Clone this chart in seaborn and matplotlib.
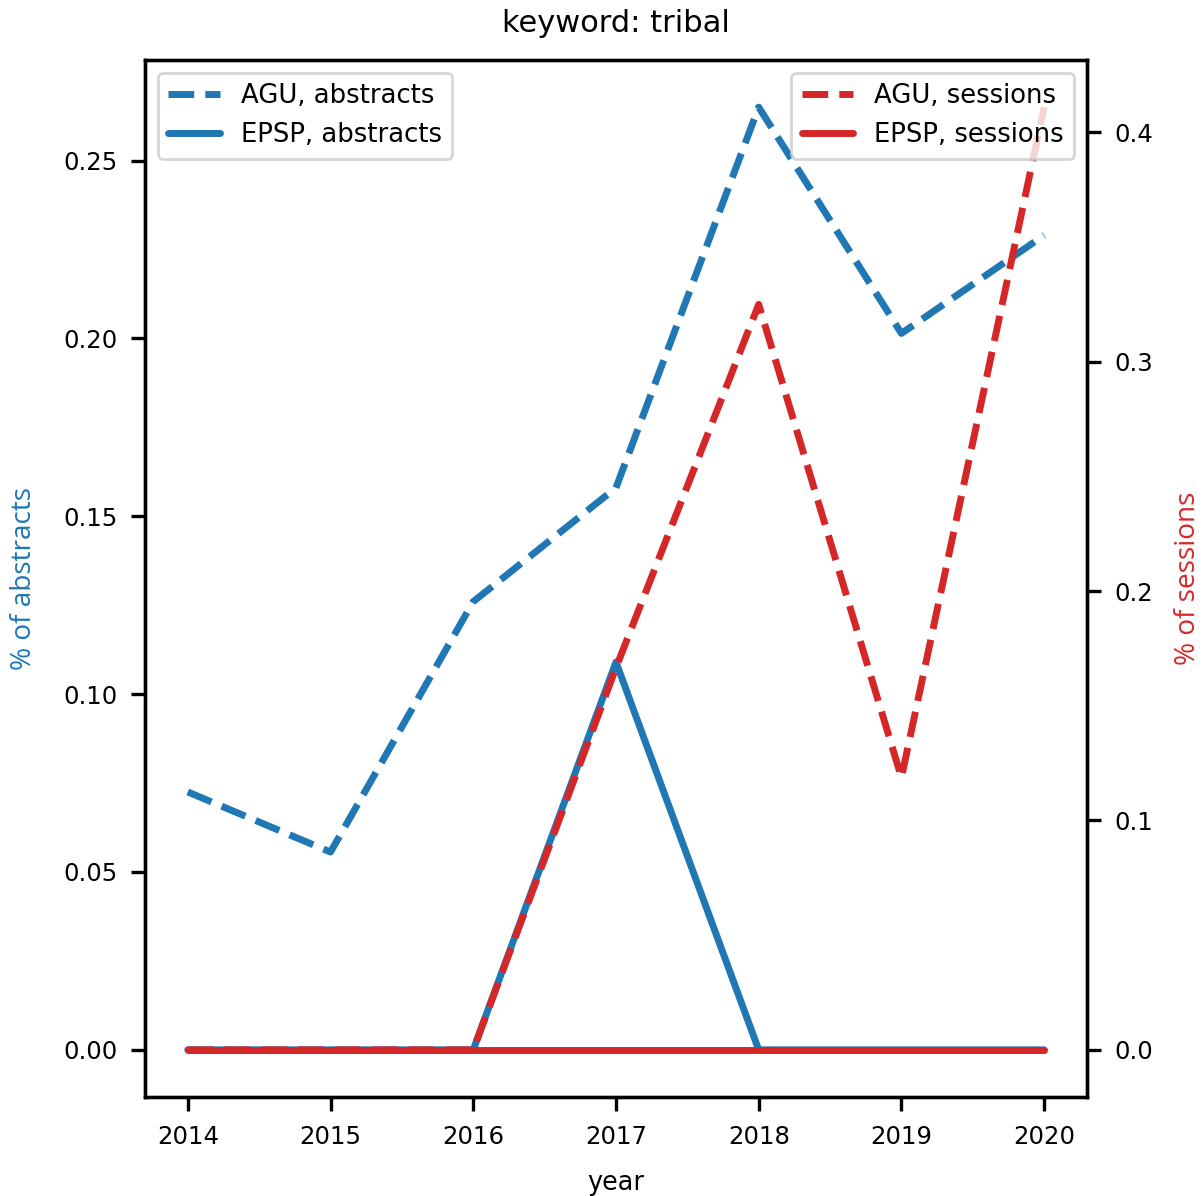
import matplotlib
matplotlib.use("Agg")
import matplotlib.pyplot as plt
import seaborn as sns
import pandas as pd

years = [2014, 2015, 2016, 2017, 2018, 2019, 2020]
agu_abstracts = [0.0725, 0.0556, 0.126, 0.158, 0.265, 0.2014, 0.229]
epsp_abstracts = [0.0, 0.0, 0.0, 0.109, 0.0, 0.0, 0.0]
agu_sessions = [0.0, 0.0, 0.0, 0.1666, 0.325, 0.1187, 0.411]
epsp_sessions = [0.0, 0.0, 0.0, 0.0, 0.0, 0.0, 0.0]

sns.set_style("ticks", {
    "axes.edgecolor": "black",
    "text.color": "black",
    "axes.labelcolor": "black",
    "xtick.color": "black",
    "ytick.color": "black",
})
plt.rcParams["font.family"] = ["DejaVu Sans"]

blue = "#1f77b4"
red = "#d62728"
lw = 2.5

fig = plt.figure(figsize=(6.01, 5.98), dpi=200)
ax = fig.add_axes([0.1206, 0.0828, 0.7837, 0.867])
ax2 = ax.twinx()

df = pd.DataFrame({
    "year": years,
    "agu_abs": agu_abstracts,
    "epsp_abs": epsp_abstracts,
    "agu_ses": agu_sessions,
    "epsp_ses": epsp_sessions,
})

sns.lineplot(data=df, x="year", y="agu_abs", ax=ax, color=blue, linestyle="--",
             linewidth=lw, label="AGU, abstracts")
sns.lineplot(data=df, x="year", y="epsp_abs", ax=ax, color=blue, linestyle="-",
             linewidth=lw, label="EPSP, abstracts")
sns.lineplot(data=df, x="year", y="agu_ses", ax=ax2, color=red, linestyle="--",
             linewidth=lw, label="AGU, sessions")
sns.lineplot(data=df, x="year", y="epsp_ses", ax=ax2, color=red, linestyle="-",
             linewidth=lw, label="EPSP, sessions")

ax.set_xticks(years)
ax.set_xticklabels([str(y) for y in years])
ax.set_yticks([0.0, 0.05, 0.10, 0.15, 0.20, 0.25])
ax.set_yticklabels(["0.00", "0.05", "0.10", "0.15", "0.20", "0.25"])
ax2.set_yticks([0.0, 0.1, 0.2, 0.3, 0.4])
ax2.set_yticklabels(["0.0", "0.1", "0.2", "0.3", "0.4"])

for a in (ax, ax2):
    for s in a.spines.values():
        s.set_linewidth(1.2)
        s.set_visible(True)
        s.set_color("black")
    a.tick_params(axis="both", labelsize=8.8, length=5, width=1.2,
                  colors="black", pad=5)

ax.set_xlabel("year", fontsize=9.2, labelpad=7.5)
ax.set_ylabel("% of abstracts", fontsize=10.1, color=blue, family="Open Sans",
              labelpad=9)
ax2.set_ylabel("% of sessions", fontsize=10.1, color=red, family="Open Sans",
               labelpad=7.5)
ax.set_title("keyword: tribal", fontsize=11, pad=10)

ax.legend(loc="upper left", fontsize=9.3, frameon=True)
ax2.legend(loc="upper right", fontsize=9.3, frameon=True)

fig.savefig("out.png", dpi=200)
